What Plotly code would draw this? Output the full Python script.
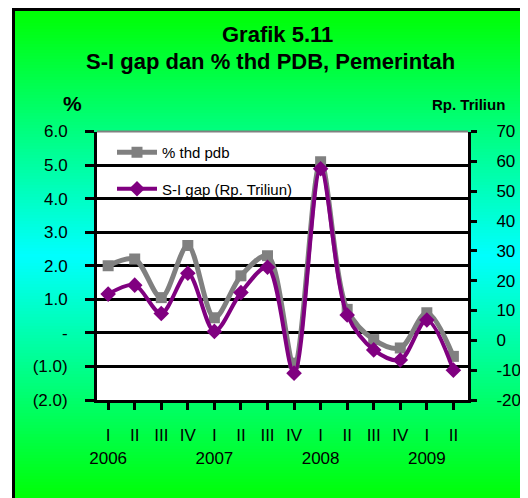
import plotly.graph_objects as go

quarters = ["I", "II", "III", "IV", "I", "II", "III", "IV", "I", "II", "III", "IV", "I", "II"]
years = ["2006", "", "", "", "2007", "", "", "", "2008", "", "", "", "2009", ""]
categories = ["2006-I", "2006-II", "2006-III", "2006-IV", "2007-I", "2007-II", "2007-III", "2007-IV",
              "2008-I", "2008-II", "2008-III", "2008-IV", "2009-I", "2009-II"]
pct_pdb = [2.0, 2.2, 1.05, 2.6, 0.45, 1.7, 2.3, -0.9, 5.1, 0.7, -0.2, -0.45, 0.6, -0.7]
si_gap = [15.5, 18.5, 9, 22.5, 3, 16, 24.5, -11, 57.5, 8.5, -3.2, -6.6, 6.8, -10]

left_vals = [6, 5, 4, 3, 2, 1, 0, -1, -2]
left_text = ["6.0", "5.0", "4.0", "3.0", "2.0", "1.0", "-", "(1.0)", "(2.0)"]
right_vals = [70, 60, 50, 40, 30, 20, 10, 0, -10, -20]
right_text = ["70", "60", "50", "40", "30", "20", "10", "0", "-10", "-20"]

OFF = 8  # page body margin
W, H = 528 - OFF, 498 - OFF
FONT = "Liberation Sans, Arial, sans-serif"


def px(x):
    return (x - OFF) / W


def py(y):
    return 1 - (y - OFF) / H


tick_text = [q + ("<br>" + y if y else "") for q, y in zip(quarters, years)]

fig = go.Figure()
fig.add_trace(go.Scatter(
    x=categories, y=pct_pdb, name="% thd pdb", mode="lines+markers",
    line=dict(color="#808080", width=5, shape="spline", smoothing=0.9),
    marker=dict(symbol="square", size=11, color="#808080"),
    legendgroup="a", yaxis="y"))
fig.add_trace(go.Scatter(
    x=categories, y=si_gap, name="S-I gap (Rp. Triliun)", mode="lines+markers",
    line=dict(color="#800080", width=4, shape="spline", smoothing=0.9),
    marker=dict(symbol="diamond", size=12, color="#800080"),
    legendgroup="b", yaxis="y2"))

shapes = []
# background gradient: green at edges, cyan in the middle
top, mid = 8, 256
step = 3
yy = top
while yy < 498:
    frac = 1 - abs((yy + step / 2) - mid) / (mid - top)
    frac = max(0.0, min(1.0, frac))
    b = int(round(255 * frac))
    shapes.append(dict(type="rect", xref="paper", yref="paper", layer="below",
                       x0=px(12), x1=1.02, y0=py(min(yy + step + 0.5, 500)), y1=py(yy),
                       fillcolor=f"rgb(0,255,{b})", line=dict(width=0)))
    yy += step
# plot area white
shapes.append(dict(type="rect", xref="x domain", yref="y domain", layer="below",
                   x0=0, x1=1, y0=0, y1=1, fillcolor="white", line=dict(width=0)))
# top border of plot area (grey)
shapes.append(dict(type="line", xref="x domain", yref="y domain", layer="above",
                   x0=0, x1=1, y0=1, y1=1, line=dict(color="#808080", width=2)))
# outer frame
shapes.append(dict(type="rect", xref="paper", yref="paper", layer="above",
                   x0=px(13.5), x1=1.05, y0=-0.05, y1=py(9.5),
                   line=dict(color="black", width=3), fillcolor="rgba(0,0,0,0)"))

annotations = [
    dict(text="<b>Grafik 5.11</b>", x=px(277), y=py(35), xref="paper", yref="paper",
         showarrow=False, font=dict(size=22, color="black", family=FONT), xanchor="center", yanchor="middle"),
    dict(text="<b>S-I gap dan % thd PDB, Pemerintah</b>", x=px(270), y=py(62), xref="paper", yref="paper",
         showarrow=False, font=dict(size=22, color="black", family=FONT), xanchor="center", yanchor="middle"),
    dict(text="<b>%</b>", x=px(72), y=py(103), xref="paper", yref="paper",
         showarrow=False, font=dict(size=21, color="black", family=FONT), xanchor="center", yanchor="middle"),
    dict(text="<b>Rp. Triliun</b>", x=px(468), y=py(104), xref="paper", yref="paper",
         showarrow=False, font=dict(size=15, color="black", family=FONT), xanchor="center", yanchor="middle"),
]

fig.update_layout(
    width=W, height=H,
    margin=dict(l=0, r=0, t=0, b=0, pad=0, autoexpand=False),
    paper_bgcolor="white", plot_bgcolor="rgba(0,0,0,0)",
    font=dict(family=FONT, color="black", size=17),
    shapes=shapes, annotations=annotations,
    showlegend=True,
    legend=dict(x=px(112), y=py(136), xanchor="left", yanchor="top",
                bgcolor="rgba(0,0,0,0)", font=dict(size=15, family=FONT),
                tracegroupgap=14, traceorder="grouped", itemwidth=40),
    xaxis=dict(domain=[px(97), px(468)], type="category", range=[-0.42, 13.55],
               tickvals=categories, ticktext=tick_text, tickangle=0, automargin=False,
               showline=True, linecolor="black", linewidth=3,
               ticks="outside", ticklen=7, tickwidth=3, tickcolor="black",
               showgrid=False, zeroline=False, ticklabelstandoff=11,
               tickfont=dict(size=17), anchor="y"),
    yaxis=dict(domain=[py(400), py(131.5)], range=[-2, 6], automargin=False,
               tickvals=left_vals, ticktext=left_text,
               showline=True, linecolor="black", linewidth=3,
               ticks="outside", ticklen=9, tickwidth=3, tickcolor="black",
               showgrid=True, gridcolor="black", gridwidth=2.5, zeroline=False,
               ticklabelstandoff=14, tickfont=dict(size=17), anchor="x"),
    yaxis2=dict(overlaying="y", side="right", range=[-20, 70], automargin=False,
                tickvals=right_vals, ticktext=right_text,
                showline=True, linecolor="black", linewidth=3,
                ticks="outside", ticklen=6, tickwidth=3, tickcolor="black",
                showgrid=False, zeroline=False, ticklabelstandoff=16,
                tickfont=dict(size=17), anchor="x"),
)

fig.write_html("out.html")
